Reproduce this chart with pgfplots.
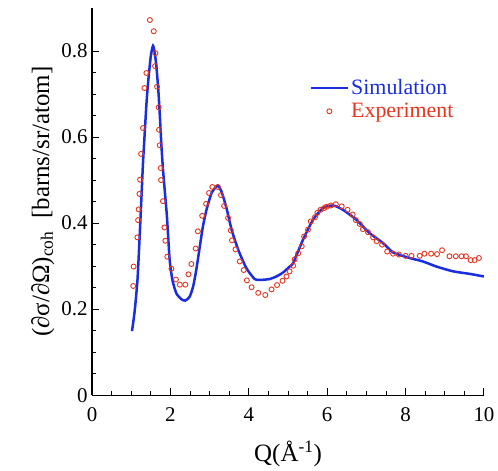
\documentclass[border=0pt]{standalone}
\usepackage{pgfplots}
\pgfplotsset{compat=1.18}
\usepackage{fontspec}
\setmainfont{Liberation Serif}

\definecolor{simblue}{RGB}{25,45,225}
\definecolor{expred}{RGB}{232,52,30}

\begin{document}
\begin{tikzpicture}
\begin{axis}[
    scale only axis,
    width=391.7bp, height=387bp,
    xmin=0, xmax=10, ymin=0, ymax=0.9,
    axis lines=left,
    axis line style={-, line width=1.2bp},
    tick align=inside,
    xtick={0,2,...,10}, ytick={0,0.2,0.4,0.6,0.8},
    xticklabels={0,2,4,6,8,10},
    yticklabels={0,0.2,0.4,0.6,0.8},
    minor x tick num=3, minor y tick num=3,
    major tick length=7bp, minor tick length=4bp,
    tick style={line width=1bp, black},
    ticklabel style={font=\fontsize{21}{23}\selectfont},
    xticklabel style={yshift=-9bp},
    yticklabel style={xshift=-1bp},
    xlabel={Q(Å\textsuperscript{-1})},
    ylabel={(∂σ/∂Ω)\textsubscript{coh}\ \ [barns/sr/atom]},
    label style={font=\fontsize{25}{28}\selectfont},
    xlabel style={yshift=-12bp},
    legend style={draw=none, fill=none, at={(rel axis cs:0.547,0.826)}, anchor=north west,
        font=\fontsize{22}{24}\selectfont, row sep=3bp},
    legend cell align=left,
    legend image code/.code={\draw[mark repeat=2, mark phase=2, #1]
        plot coordinates {(0bp,0bp) (18.5bp,0bp) (37bp,0bp)};},
]
\addplot[simblue, line width=2.5bp, smooth, tension=0.4] coordinates {
(1.02,0.149) (1.09,0.198) (1.16,0.27) (1.22,0.38) (1.26,0.46) (1.30,0.54)
(1.344,0.61) (1.39,0.68) (1.43,0.727) (1.50,0.789) (1.556,0.812) (1.60,0.795)
(1.64,0.766) (1.69,0.71) (1.73,0.649) (1.77,0.58) (1.81,0.525) (1.86,0.47)
(1.91,0.416) (1.98,0.315) (2.05,0.268) (2.15,0.237) (2.28,0.223) (2.38,0.22)
(2.49,0.229) (2.58,0.253) (2.66,0.292) (2.75,0.346) (2.83,0.393) (2.92,0.431)
(3.05,0.47) (3.2,0.487) (3.3,0.474) (3.43,0.435) (3.56,0.385) (3.73,0.338)
(3.94,0.295) (4.15,0.270) (4.28,0.268) (4.53,0.27) (4.70,0.276) (4.87,0.285)
(5.04,0.299) (5.13,0.307) (5.38,0.361) (5.64,0.408) (5.89,0.435) (6.15,0.441)
(6.40,0.431) (6.74,0.408) (7.08,0.377) (7.42,0.354) (7.68,0.332) (8.10,0.319)
(8.44,0.311) (8.79,0.299) (9.21,0.288) (9.64,0.282) (10.0,0.276)
};
\addlegendentry{\textcolor{simblue}{Simulation}}
\addplot[only marks, mark=o, mark size=2.5bp, expred, mark options={line width=0.9bp}] coordinates {
(1.05,0.254) (1.06,0.299) (1.157,0.367) (1.175,0.407) (1.19,0.432) (1.21,0.468)
(1.225,0.501) (1.25,0.561) (1.30,0.621) (1.336,0.714) (1.387,0.749) (1.475,0.872)
(1.574,0.846) (1.608,0.765) (1.617,0.795) (1.659,0.717) (1.70,0.669) (1.71,0.617)
(1.727,0.581) (1.753,0.528) (1.76,0.50) (1.81,0.451) (1.846,0.39) (1.87,0.359)
(1.92,0.322) (2.025,0.294) (2.14,0.269) (2.24,0.257) (2.38,0.257) (2.46,0.281)
(2.535,0.305) (2.645,0.341) (2.70,0.381) (2.81,0.417) (2.91,0.445) (2.985,0.47)
(3.07,0.484) (3.21,0.484) (3.29,0.465) (3.37,0.44) (3.47,0.412) (3.54,0.383)
(3.57,0.36) (3.66,0.339) (3.77,0.311) (3.87,0.291) (3.95,0.267) (4.07,0.251)
(4.24,0.238) (4.42,0.233) (4.58,0.246) (4.72,0.256) (4.86,0.266) (4.96,0.276)
(5.04,0.288) (5.13,0.301) (5.17,0.316) (5.26,0.33) (5.35,0.346) (5.41,0.369)
(5.51,0.385) (5.58,0.404) (5.69,0.414) (5.75,0.424) (5.83,0.431) (5.92,0.435)
(5.98,0.438) (6.09,0.441) (6.22,0.444) (6.37,0.439) (6.52,0.431) (6.65,0.42)
(6.73,0.407) (6.83,0.398) (6.91,0.386) (7.04,0.379) (7.17,0.367) (7.26,0.358)
(7.40,0.35) (7.53,0.334) (7.68,0.329) (7.83,0.327) (8.00,0.324) (8.15,0.324)
(8.36,0.324) (8.48,0.329) (8.65,0.329) (8.80,0.328) (8.93,0.337) (9.12,0.323)
(9.28,0.323) (9.43,0.323) (9.54,0.323) (9.66,0.314) (9.76,0.314) (9.87,0.319)
};
\addlegendentry{\textcolor{expred}{Experiment}}
\end{axis}
\path (current axis.south west) ++(-92bp,-75bp) coordinate (bbA);
\path (current axis.north east) ++(14bp,8bp) coordinate (bbB);
\path (bbA) rectangle (bbB);
\end{tikzpicture}
\end{document}
